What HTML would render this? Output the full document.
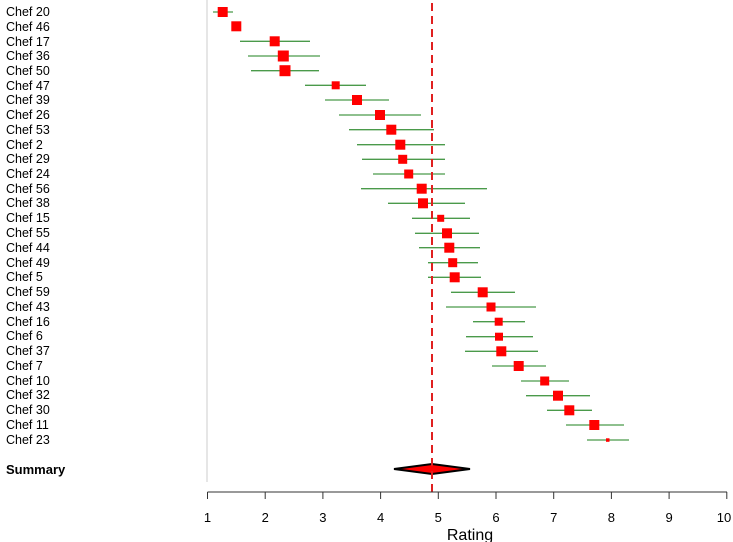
<!DOCTYPE html>
<html><head><style>body{margin:0;background:#fff}svg{display:block}text{font-family:"Liberation Sans",sans-serif}</style></head><body>
<svg width="733" height="542" xmlns="http://www.w3.org/2000/svg">
<line x1="207" y1="0" x2="207" y2="482" stroke="#ccc" stroke-width="1"/>
<g font-size="12.5" fill="#000">
<text x="6" y="16">Chef 20</text><text x="6" y="31">Chef 46</text><text x="6" y="46">Chef 17</text><text x="6" y="60">Chef 36</text><text x="6" y="75">Chef 50</text><text x="6" y="90">Chef 47</text><text x="6" y="104">Chef 39</text><text x="6" y="119">Chef 26</text><text x="6" y="134">Chef 53</text><text x="6" y="149">Chef 2</text><text x="6" y="163">Chef 29</text><text x="6" y="178">Chef 24</text><text x="6" y="193">Chef 56</text><text x="6" y="207">Chef 38</text><text x="6" y="222">Chef 15</text><text x="6" y="237">Chef 55</text><text x="6" y="252">Chef 44</text><text x="6" y="267">Chef 49</text><text x="6" y="281">Chef 5</text><text x="6" y="296">Chef 59</text><text x="6" y="311">Chef 43</text><text x="6" y="326">Chef 16</text><text x="6" y="340">Chef 6</text><text x="6" y="355">Chef 37</text><text x="6" y="370">Chef 7</text><text x="6" y="385">Chef 10</text><text x="6" y="399">Chef 32</text><text x="6" y="414">Chef 30</text><text x="6" y="429">Chef 11</text><text x="6" y="444">Chef 23</text>
<text x="6" y="474" font-weight="bold" font-size="13">Summary</text>
</g>
<g stroke="#4a9a4a" stroke-width="1.3">
<line x1="213" y1="12" x2="233" y2="12"/>
<line x1="240" y1="41.3" x2="310" y2="41.3"/>
<line x1="248" y1="56" x2="320" y2="56"/>
<line x1="251" y1="70.7" x2="319" y2="70.7"/>
<line x1="305" y1="85.3" x2="366" y2="85.3"/>
<line x1="325" y1="100" x2="389" y2="100"/>
<line x1="339" y1="115" x2="421" y2="115"/>
<line x1="349" y1="129.7" x2="434" y2="129.7"/>
<line x1="357" y1="144.7" x2="445" y2="144.7"/>
<line x1="362" y1="159.3" x2="445" y2="159.3"/>
<line x1="373" y1="174" x2="445" y2="174"/>
<line x1="361" y1="188.7" x2="487" y2="188.7"/>
<line x1="388" y1="203.3" x2="465" y2="203.3"/>
<line x1="412" y1="218.3" x2="470" y2="218.3"/>
<line x1="415" y1="233.3" x2="479" y2="233.3"/>
<line x1="419" y1="247.7" x2="480" y2="247.7"/>
<line x1="428" y1="262.7" x2="478" y2="262.7"/>
<line x1="428" y1="277.3" x2="481" y2="277.3"/>
<line x1="451" y1="292.3" x2="515" y2="292.3"/>
<line x1="446" y1="307" x2="536" y2="307"/>
<line x1="473" y1="321.7" x2="525" y2="321.7"/>
<line x1="466" y1="336.7" x2="533" y2="336.7"/>
<line x1="465" y1="351.3" x2="538" y2="351.3"/>
<line x1="492" y1="366" x2="546" y2="366"/>
<line x1="521" y1="381" x2="569" y2="381"/>
<line x1="526" y1="395.7" x2="590" y2="395.7"/>
<line x1="547" y1="410.3" x2="592" y2="410.3"/>
<line x1="566" y1="425" x2="624" y2="425"/>
<line x1="587" y1="440" x2="629" y2="440"/>
</g>
<g fill="#ff0000">
<rect x="217.7" y="7" width="10" height="10"/>
<rect x="231.3" y="21.3" width="10" height="10"/>
<rect x="269.7" y="36.3" width="10" height="10"/>
<rect x="277.8" y="50.5" width="11" height="11"/>
<rect x="279.5" y="65.2" width="11" height="11"/>
<rect x="331.7" y="81.3" width="8" height="8"/>
<rect x="352" y="95" width="10" height="10"/>
<rect x="375" y="110" width="10" height="10"/>
<rect x="386.3" y="124.7" width="10" height="10"/>
<rect x="395.3" y="139.7" width="10" height="10"/>
<rect x="398.2" y="154.8" width="9" height="9"/>
<rect x="404.2" y="169.5" width="9" height="9"/>
<rect x="416.7" y="183.7" width="10" height="10"/>
<rect x="418" y="198.3" width="10" height="10"/>
<rect x="437.2" y="214.8" width="7" height="7"/>
<rect x="442" y="228.3" width="10" height="10"/>
<rect x="444.3" y="242.7" width="10" height="10"/>
<rect x="448.2" y="258.2" width="9" height="9"/>
<rect x="449.7" y="272.3" width="10" height="10"/>
<rect x="477.7" y="287.3" width="10" height="10"/>
<rect x="486.5" y="302.5" width="9" height="9"/>
<rect x="494.7" y="317.7" width="8" height="8"/>
<rect x="495" y="332.7" width="8" height="8"/>
<rect x="496.3" y="346.3" width="10" height="10"/>
<rect x="513.7" y="361" width="10" height="10"/>
<rect x="540.2" y="376.5" width="9" height="9"/>
<rect x="553" y="390.7" width="10" height="10"/>
<rect x="564.3" y="405.3" width="10" height="10"/>
<rect x="589.3" y="420" width="10" height="10"/>
<rect x="606" y="438.3" width="3.5" height="3.5"/>
</g>
<polygon points="394,469 432,464 470,469 432,474" fill="#ff0000" stroke="#000" stroke-width="2"/>
<line x1="432" y1="3" x2="432" y2="492" stroke="#e02020" stroke-width="2" stroke-dasharray="8,5"/>
<g stroke="#333" stroke-width="1">
<line x1="207.5" y1="492" x2="727" y2="492"/>
<line x1="207.5" y1="492" x2="207.5" y2="499"/><line x1="265.2" y1="492" x2="265.2" y2="499"/><line x1="322.9" y1="492" x2="322.9" y2="499"/><line x1="380.6" y1="492" x2="380.6" y2="499"/><line x1="438.3" y1="492" x2="438.3" y2="499"/><line x1="496" y1="492" x2="496" y2="499"/><line x1="553.7" y1="492" x2="553.7" y2="499"/><line x1="611.4" y1="492" x2="611.4" y2="499"/><line x1="669.1" y1="492" x2="669.1" y2="499"/><line x1="726.8" y1="492" x2="726.8" y2="499"/>
</g>
<g font-size="13" text-anchor="middle" fill="#000">
<text x="207.5" y="522">1</text><text x="265.2" y="522">2</text><text x="322.9" y="522">3</text><text x="380.6" y="522">4</text><text x="438.3" y="522">5</text><text x="496" y="522">6</text><text x="553.7" y="522">7</text><text x="611.4" y="522">8</text><text x="669.1" y="522">9</text><text x="724" y="522">10</text>
<text x="470" y="540" font-size="16">Rating</text>
</g>
</svg>
</body></html>
